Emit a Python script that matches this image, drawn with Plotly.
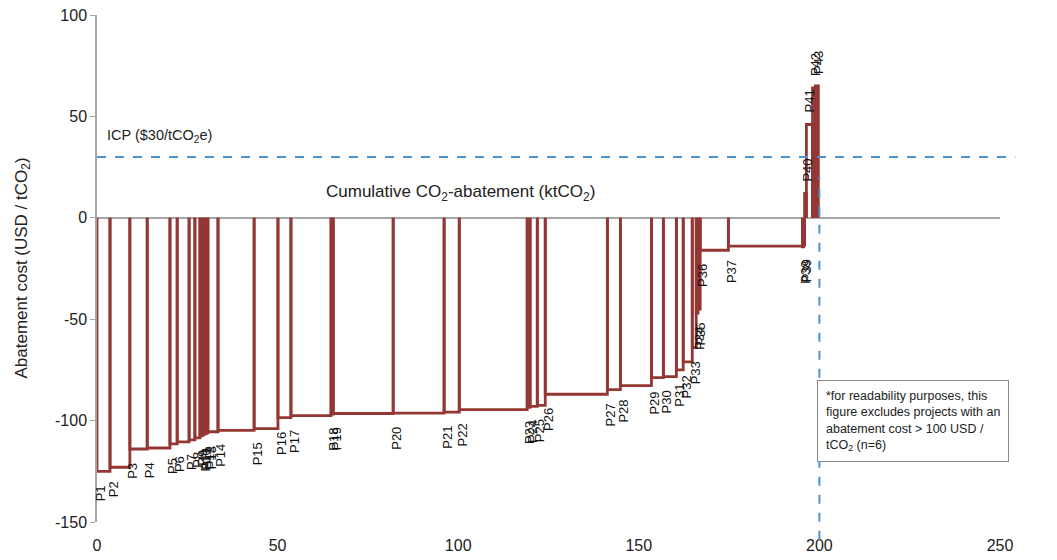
import numpy as np
import plotly.graph_objects as go

# project labels, abatement per project (ktCO2) and abatement cost (USD/tCO2)
projects = [f'P{i}' for i in range(1, 44)]
abatement = [3.6, 5.5, 4.8, 6.3, 2.0, 3.3, 1.6, 1.4, 0.6, 0.5, 0.6, 0.5, 2.8,
             10.0, 6.6, 3.6, 11.1, 0.6, 16.6, 14.1, 4.2, 18.8, 0.8, 2.0, 2.2,
             17.2, 3.6, 8.6, 3.3, 3.6, 1.9, 2.5, 1.1, 0.5, 0.6, 7.8, 20.5,
             0.3, 0.3, 0.5, 1.7, 0.8, 0.8]
cost = [-125, -123, -114, -113.5, -111.5, -110.5, -109.5, -108.5, -107.5,
        -107, -106.5, -106, -105.5, -104.8, -104, -98.5, -97.5, -96.8, -96.5,
        -96.3, -95.8, -94.6, -93.5, -93, -92.5, -87, -84.7, -82.8, -78.8,
        -78.3, -75, -71, -64, -47, -45, -16, -14, -14.3, -13.5, 12, 46, 64, 65]

icp = 30
total_line = 200
x_ticks = [0, 50, 100, 150, 200, 250]
y_ticks = [100, 50, 0, -50, -100, -150]
y_ticktext = ['100', '50', '0', '-50', '-100', '-150']

red = '#943634'
blue = '#4f93cc'
font = 'Arial, Liberation Sans, sans-serif'

right = np.cumsum(abatement)
left = right - np.array(abatement)

xs, ys = [], []
for x0, x1, c in zip(left, right, cost):
    xs += [x0, x0, x1, x1, None]
    ys += [0, c, c, 0, None]

fig = go.Figure()
fig.add_trace(go.Scatter(x=xs, y=ys, mode='lines',
                         line={'color': red, 'width': 2.8},
                         hoverinfo='skip', showlegend=False))

annotations = []
for name, x0, c in zip(projects, left, cost):
    annotations.append(dict(x=x0, y=c, text=name, showarrow=False,
                            textangle=-90, xanchor='center',
                            yanchor='top' if c < 0 else 'bottom',
                            xshift=3, yshift=-12 if c < 0 else 10,
                            font={'size': 13, 'color': '#111', 'family': font}))

annotations += [
    dict(x=100.5, y=12.3, text='Cumulative CO<sub>2</sub>-abatement (ktCO<sub>2</sub>)',
         showarrow=False, font={'size': 17, 'color': '#222', 'family': font}),
    dict(x=2.2, y=40.4, text='ICP ($30/tCO<sub>2</sub>e)', showarrow=False,
         xanchor='left', font={'size': 14.5, 'color': '#222', 'family': font}),
    dict(xref='paper', yref='paper', x=0, y=0.5, xshift=-88,
         text='Abatement cost (USD / tCO<sub>2</sub>)', textangle=-90,
         showarrow=False, font={'size': 17, 'color': '#222', 'family': font}),
    dict(xref='paper', yref='paper', x=0.797, y=0.28, xanchor='left',
         yanchor='top', align='left', showarrow=False,
         text='*for readability purposes, this<br>figure excludes projects with an'
              '<br>abatement cost > 100 USD /<br>tCO<sub>2</sub> (n=6)',
         bordercolor='#888', borderwidth=1, borderpad=8, bgcolor='white',
         font={'size': 12.5, 'color': '#222', 'family': font}),
]

# page body adds an 8px offset, margins compensate for it
fig.update_layout(
    width=1057, height=560,
    margin={'l': 89, 'r': 65, 't': 7, 'b': 46, 'autoexpand': False},
    plot_bgcolor='white', paper_bgcolor='white',
    annotations=annotations,
    shapes=[
        dict(type='line', xref='paper', x0=0, x1=1.017, y0=icp, y1=icp,
             line={'color': blue, 'width': 2, 'dash': 'dash'}, layer='above'),
        dict(type='line', x0=total_line, x1=total_line, yref='paper',
             y0=-0.035, y1=0.68,
             line={'color': blue, 'width': 2, 'dash': 'dash'}, layer='above'),
    ],
)
fig.update_xaxes(range=[0, 250], tickvals=x_ticks, showgrid=False,
                 zeroline=False, showline=False, ticks='', automargin=False,
                 ticklabelstandoff=12, ticklabeloverflow='allow',
                 tickfont={'size': 16, 'color': '#222', 'family': font})
fig.update_yaxes(range=[-150, 100], tickvals=y_ticks, ticktext=y_ticktext,
                 showgrid=False, automargin=False, ticklabeloverflow='allow',
                 zeroline=True, zerolinecolor='#a6a6a6', zerolinewidth=1.5,
                 showline=True, linecolor='#a6a6a6', linewidth=1.5,
                 ticks='outside', ticklen=5, tickcolor='#a6a6a6',
                 tickfont={'size': 16, 'color': '#222', 'family': font})

fig.write_html('out.html')
